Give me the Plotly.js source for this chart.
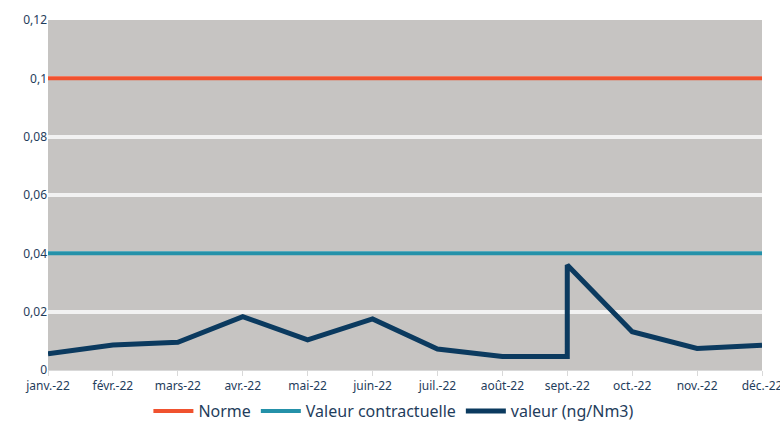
<!DOCTYPE html>
<html>
<head>
<meta charset="utf-8">
<script src="https://cdn.plot.ly/plotly-3.0.1.min.js"></script>
<style>
  body { margin: 0; background: #fff; }
  #graf { width: 780px; height: 428px; }
</style>
</head>
<body>
<div id="graf"></div>
<script>
// Mois (étiquettes de l'axe horizontal)
let mois = ["janv.-22", "févr.-22", "mars-22", "avr.-22", "mai-22", "juin-22",
            "juil.-22", "août-22", "sept.-22", "oct.-22", "nov.-22", "déc.-22"]
let posMois = [0, 1, 2, 3, 4, 5, 6, 7, 8, 9, 10, 11]

// Mesures : deux valeurs en septembre (saut vertical)
let xMesure = [0, 1, 2, 3, 4, 5, 6, 7, 8, 8, 9, 10, 11]
let valeur = [0.0056, 0.0086, 0.0095, 0.0183, 0.0103, 0.0175, 0.0072, 0.0046, 0.0046, 0.036, 0.0131, 0.0074, 0.0085]

let norme = [0.1, 0.1, 0.1, 0.1, 0.1, 0.1, 0.1, 0.1, 0.1, 0.1, 0.1, 0.1]
let contractuelle = [0.04, 0.04, 0.04, 0.04, 0.04, 0.04, 0.04, 0.04, 0.04, 0.04, 0.04, 0.04]

let graf_norme = {
    x: posMois,
    y: norme,
    mode: 'lines',
    type: 'scatter',
    name: "Norme",
    line: {color: '#f0522f', width: 4}
}

let graf_contr = {
    x: posMois,
    y: contractuelle,
    mode: 'lines',
    type: 'scatter',
    name: "Valeur contractuelle",
    line: {color: '#2491a9', width: 4}
}

let graf_valeur = {
    x: xMesure,
    y: valeur,
    mode: 'lines',
    type: 'scatter',
    name: "valeur (ng/Nm3)",
    line: {color: '#0b3a5f', width: 5}
}

let layout = {
    width: 780,
    height: 428,
    margin: {l: 48, r: 18, t: 20, b: 58},
    paper_bgcolor: '#ffffff',
    plot_bgcolor: '#c6c4c2',
    separators: ', ',
    font: {family: "Noto Sans, sans-serif", color: '#1f3d5c', size: 12},
    showlegend: true,
    legend: {
        orientation: 'h',
        xref: 'container',
        yref: 'container',
        x: 0.505, xanchor: 'center',
        y: -0.025, yanchor: 'bottom',
        font: {size: 16, color: '#1f3d5c'},
        itemwidth: 40,
        tracegroupgap: 0
    },
    xaxis: {
        range: [0, 11],
        tickvals: posMois,
        ticktext: mois,
        showgrid: false,
        zeroline: false,
        showline: true,
        linecolor: '#d9d9d9',
        linewidth: 1,
        ticks: 'outside',
        ticklen: 5,
        tickcolor: '#d9d9d9',
        tickfont: {size: 12},
        ticklabeloverflow: 'allow',
        automargin: false
    },
    yaxis: {
        range: [0, 0.12],
        dtick: 0.02,
        showgrid: true,
        gridcolor: '#f2f2f2',
        gridwidth: 4,
        zeroline: false,
        showline: false,
        ticks: '',
        tickfont: {size: 12},
        automargin: false
    }
}

Plotly.newPlot(document.getElementById("graf"), [graf_norme, graf_contr, graf_valeur], layout, {displayModeBar: false})
</script>
</body>
</html>
